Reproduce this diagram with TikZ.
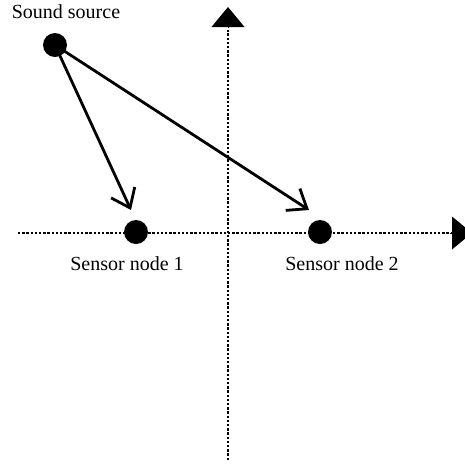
\documentclass[tikz,border=0pt]{standalone}
\usepackage{fontspec}
\setmainfont{Liberation Serif}
\usetikzlibrary{arrows.meta}
\begin{document}
\begin{tikzpicture}[x=1pt,y=-1pt,
  axisline/.style={line width=2.6pt,dash pattern=on 2.4pt off 1.8pt,line cap=butt},
  axistip/.style={-{Triangle[length=20pt,width=33pt]}},
  dot/.style={circle,fill=black,inner sep=0pt,minimum size=24pt},
  ray/.style={line width=2.8pt,-{Straight Barb[length=17pt,width=26pt,line width=2.8pt]}},
  lab/.style={font=\fontsize{20}{24}\selectfont,inner sep=0pt,anchor=base}]
\useasboundingbox (0,0) rectangle (465,467);
% axes
\coordinate (hL) at (18,233);
\coordinate (hR) at (472,233);
\coordinate (vB) at (228,460);
\coordinate (vT) at (228,7);
\draw[axisline] (hL) -- (455,233);
\draw[axistip,line width=0pt] (450,233) -- (hR);
\draw[axisline] (vB) -- (228,30);
\draw[axistip,line width=0pt] (228,27) -- (vT);
% nodes
\node[dot] (src) at (55,45) {};
\node[dot] (s1) at (136,232) {};
\node[dot] (s2) at (320,232) {};
% labels
\node[lab] (lsrc) at (66,18) {Sound source};
\node[lab] (ls1) at (127,270) {Sensor node 1};
\node[lab] (ls2) at (342,270) {Sensor node 2};
% rays
\coordinate (t1) at (131,210);
\coordinate (t2) at (309,210);
\draw[ray] (src.center) -- (t1);
\draw[ray] (src.center) -- (t2);
\end{tikzpicture}
\end{document}
